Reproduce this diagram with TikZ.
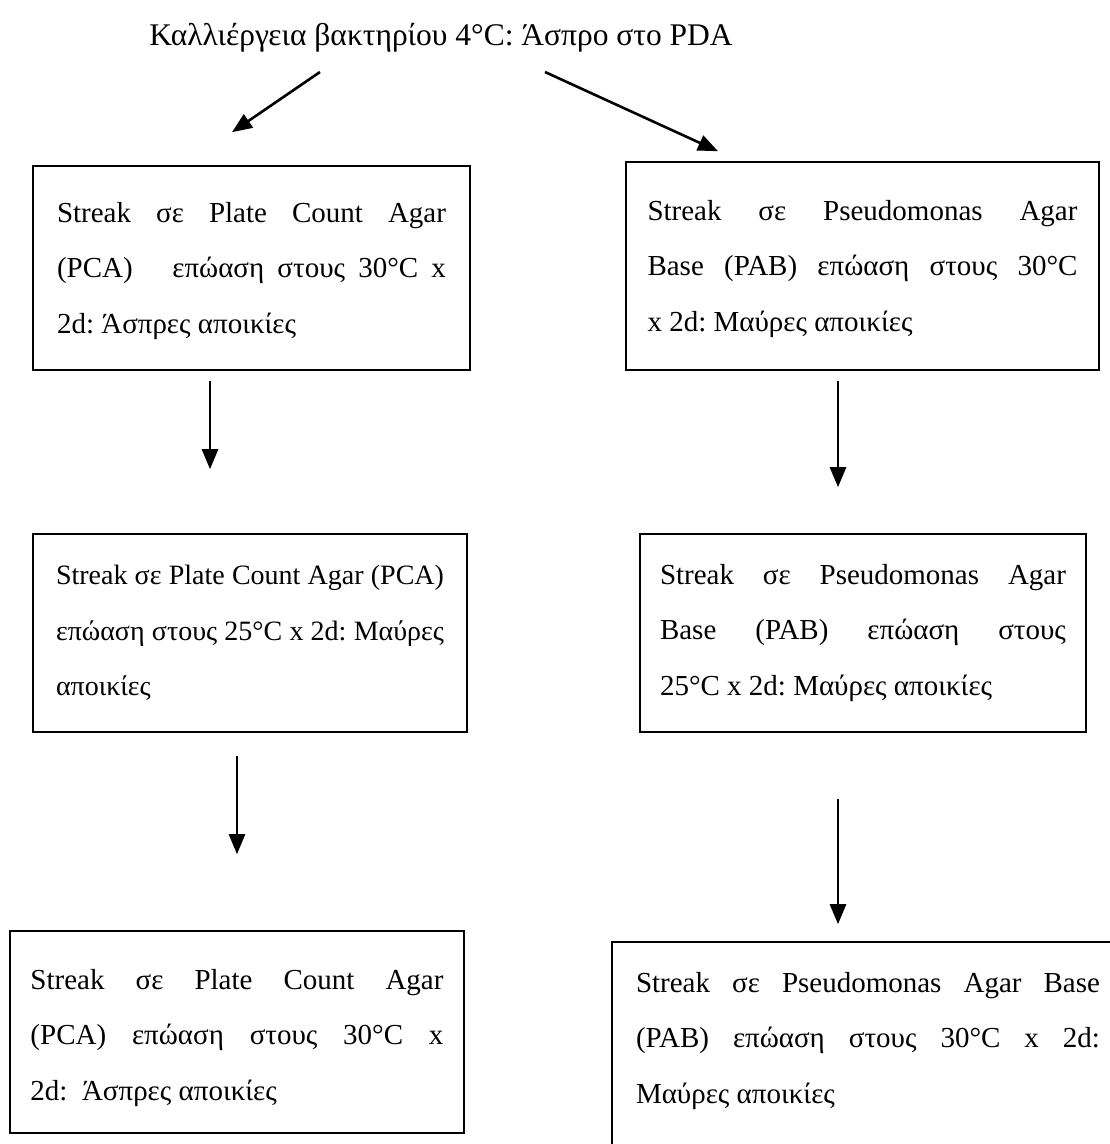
\documentclass[tikz,border=0pt]{standalone}
\usepackage{fontspec}
\setmainfont{Liberation Serif}
\usetikzlibrary{arrows.meta}
% one justified line, as wide as the node text
\newcommand{\jl}[1]{\makebox[\hsize][s]{#1}}
% invisible strut that lowers a text block by pushing its top up
\newcommand{\topgap}[1]{\rule{0pt}{#1}}
\frenchspacing
\begin{document}
\begin{tikzpicture}[x=1pt,y=-1pt,
  font=\fontsize{29}{55.5}\selectfont,
  stepbox/.style={draw, line width=1.6pt, inner sep=0pt, align=justify},
  flow/.style={line width=2.6pt, -{Triangle[length=20pt,width=16pt]}}]
\useasboundingbox (0,0) rectangle (1110,1144);
\clip (0,0) rectangle (1110,1144);

% title
\node[font=\fontsize{31.5}{36}\selectfont] (t) at (441,38) {Καλλιέργεια βακτηρίου 4°C: Άσπρο στο PDA};

% left column
\node[stepbox, minimum width=437pt, minimum height=204pt, text width=389pt] (b1) at (251.5,268)
  {\jl{\topgap{26pt}Streak σε Plate Count Agar}\\
   \jl{(PCA)\ \ \ επώαση στους 30°C x}\\
   2d: Άσπρες αποικίες};
\node[stepbox, font=\fontsize{28}{55.5}\selectfont, minimum width=434pt, minimum height=198pt, text width=388pt] (b3) at (250,633)
  {\jl{Streak σε Plate Count Agar (PCA)}\\
   \jl{επώαση στους 25°C x 2d: Μαύρες}\\
   αποικίες};
\node[stepbox, minimum width=454pt, minimum height=202pt, text width=413pt] (b5) at (237,1032)
  {\jl{\topgap{32pt}Streak σε Plate Count Agar}\\
   \jl{(PCA) επώαση στους 30°C x}\\
   2d:\ \ Άσπρες αποικίες};

% right column
\node[stepbox, minimum width=473pt, minimum height=208pt, text width=430pt] (b2) at (862.5,266)
  {\jl{\topgap{26pt}Streak σε Pseudomonas Agar}\\
   \jl{Base (PAB) επώαση στους 30°C}\\
   x 2d: Μαύρες αποικίες};
\node[stepbox, minimum width=446pt, minimum height=198pt, text width=406pt] (b4) at (863,633)
  {\jl{Streak σε Pseudomonas Agar}\\
   \jl{Base (PAB) επώαση στους}\\
   25°C x 2d: Μαύρες αποικίες};
\node[stepbox, draw=none, minimum width=510pt, minimum height=196pt, text width=464pt] (b6) at (868,1041)
  {\jl{Streak σε Pseudomonas Agar Base}\\
   \jl{(PAB) επώαση στους 30°C x 2d:}\\
   Μαύρες αποικίες};
% the last box runs past the lower and right edges
\draw[line width=1.6pt] ([yshift=-30pt]b6.south west) -- (b6.north west) -- (b6.north east);

% connectors
\draw[flow] ([xshift=-121pt,yshift=-34pt]t.center) -- ([xshift=-19.5pt,yshift=33pt]b1.north);
\draw[flow] ([xshift=104pt,yshift=-34pt]t.center) -- ([xshift=-144.5pt,yshift=10pt]b2.north);
\draw[flow] ([xshift=-41.5pt,yshift=-10pt]b1.south) -- ([xshift=-40pt,yshift=64pt]b3.north);
\draw[flow] ([xshift=-24.5pt,yshift=-10pt]b2.south) -- ([xshift=-25pt,yshift=46pt]b4.north);
\draw[flow] ([xshift=-13pt,yshift=-23pt]b3.south) -- ([yshift=76pt]b5.north);
\draw[flow] ([xshift=-25pt,yshift=-66pt]b4.south) -- ([xshift=-30pt,yshift=18pt]b6.north);
\end{tikzpicture}
\end{document}
